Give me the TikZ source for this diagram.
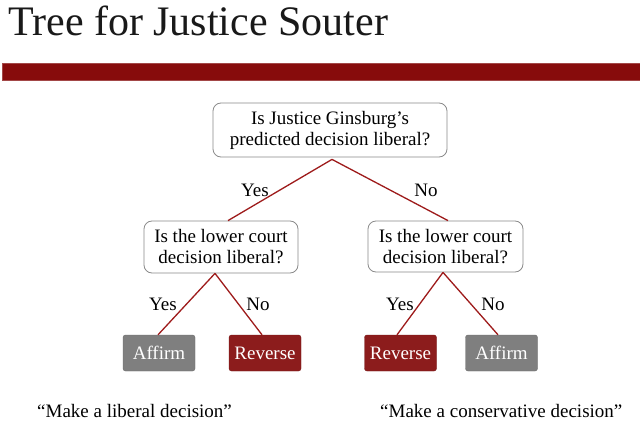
\documentclass[tikz,border=0pt]{standalone}
\usepackage{fontspec}
\setmainfont{Liberation Serif}
\definecolor{barred}{HTML}{870C0C}
\definecolor{barline}{HTML}{A34848}
\definecolor{edgered}{HTML}{9E1B1B}
\definecolor{leafred}{HTML}{8C1C1C}
\definecolor{leafgray}{HTML}{7F7F7F}
\definecolor{boxline}{HTML}{8A8A8A}
\begin{document}
\begin{tikzpicture}[x=1pt,y=-1pt,
  bodytext/.style={font=\fontsize{19}{21}\selectfont},
  question/.style={bodytext,draw=boxline,line width=0.8pt,rounded corners=8pt,fill=white,
    align=center,inner sep=0pt},
  leaf/.style={bodytext,rounded corners=2.5pt,minimum width=72pt,minimum height=36pt,
    inner sep=0pt,text=white},
  affirm/.style={leaf,fill=leafgray,draw=leafgray!85!black},
  reverse/.style={leaf,fill=leafred,draw=leafred!85!black},
  branch/.style={draw=edgered,line width=1.3pt},
  answer/.style={bodytext,inner sep=0pt},
  saying/.style={bodytext,inner sep=0pt,anchor=base west}]
\useasboundingbox (0,0) rectangle (640,436);
\fill[white] (0,0) rectangle (640,436);

% heading and rule
\node[anchor=base west,inner sep=0pt,font=\fontsize{42}{46}\selectfont,text=black!90]
  (title) at (8,36) {Tree for Justice Souter};
\draw[fill=barred,draw=barline,line width=0.6pt] (2,63.5) rectangle (641,80.5);

% questions
\node[question,minimum width=234pt,minimum height=54pt] (root) at (330,130)
  {Is Justice Ginsburg’s\\predicted decision liberal?};
\node[question,minimum width=154pt,minimum height=52pt] (lq) at (221,247)
  {Is the lower court\\decision liberal?};
\node[question,minimum width=155pt,minimum height=51pt] (rq) at (445.5,246.5)
  {Is the lower court\\decision liberal?};

% outcomes
\node[affirm]  (la) at (159,353) {Affirm};
\node[reverse] (lr) at (265,353) {Reverse};
\node[reverse] (rr) at (400.5,353) {Reverse};
\node[affirm]  (ra) at (501.5,353) {Affirm};

% branches
\draw[branch] ([xshift=2pt,yshift=-2pt]root.south) -- ([xshift=7pt]lq.north);
\draw[branch] ([xshift=2pt,yshift=-2pt]root.south) -- ([xshift=2.5pt]rq.north);
\draw[branch] ([xshift=-6pt]lq.south) -- ([xshift=-1pt]la.north);
\draw[branch] ([xshift=-6pt]lq.south) -- ([xshift=-3pt]lr.north);
\draw[branch] ([xshift=-2.5pt]rq.south) -- ([xshift=-3.5pt]rr.north);
\draw[branch] ([xshift=-2.5pt]rq.south) -- ([xshift=-3.5pt]ra.north);

% branch labels
\node[answer] (y0) at (255,190) {Yes};
\node[answer] (n0) at (426,190) {No};
\node[answer] (y1) at (163,304) {Yes};
\node[answer] (n1) at (258,304) {No};
\node[answer] (y2) at (400,304) {Yes};
\node[answer] (n2) at (493,304) {No};

% interpretations
\node[saying] (lib) at (37,417) {“Make a liberal decision”};
\node[saying] (con) at (380,417) {“Make a conservative decision”};
\end{tikzpicture}
\end{document}
